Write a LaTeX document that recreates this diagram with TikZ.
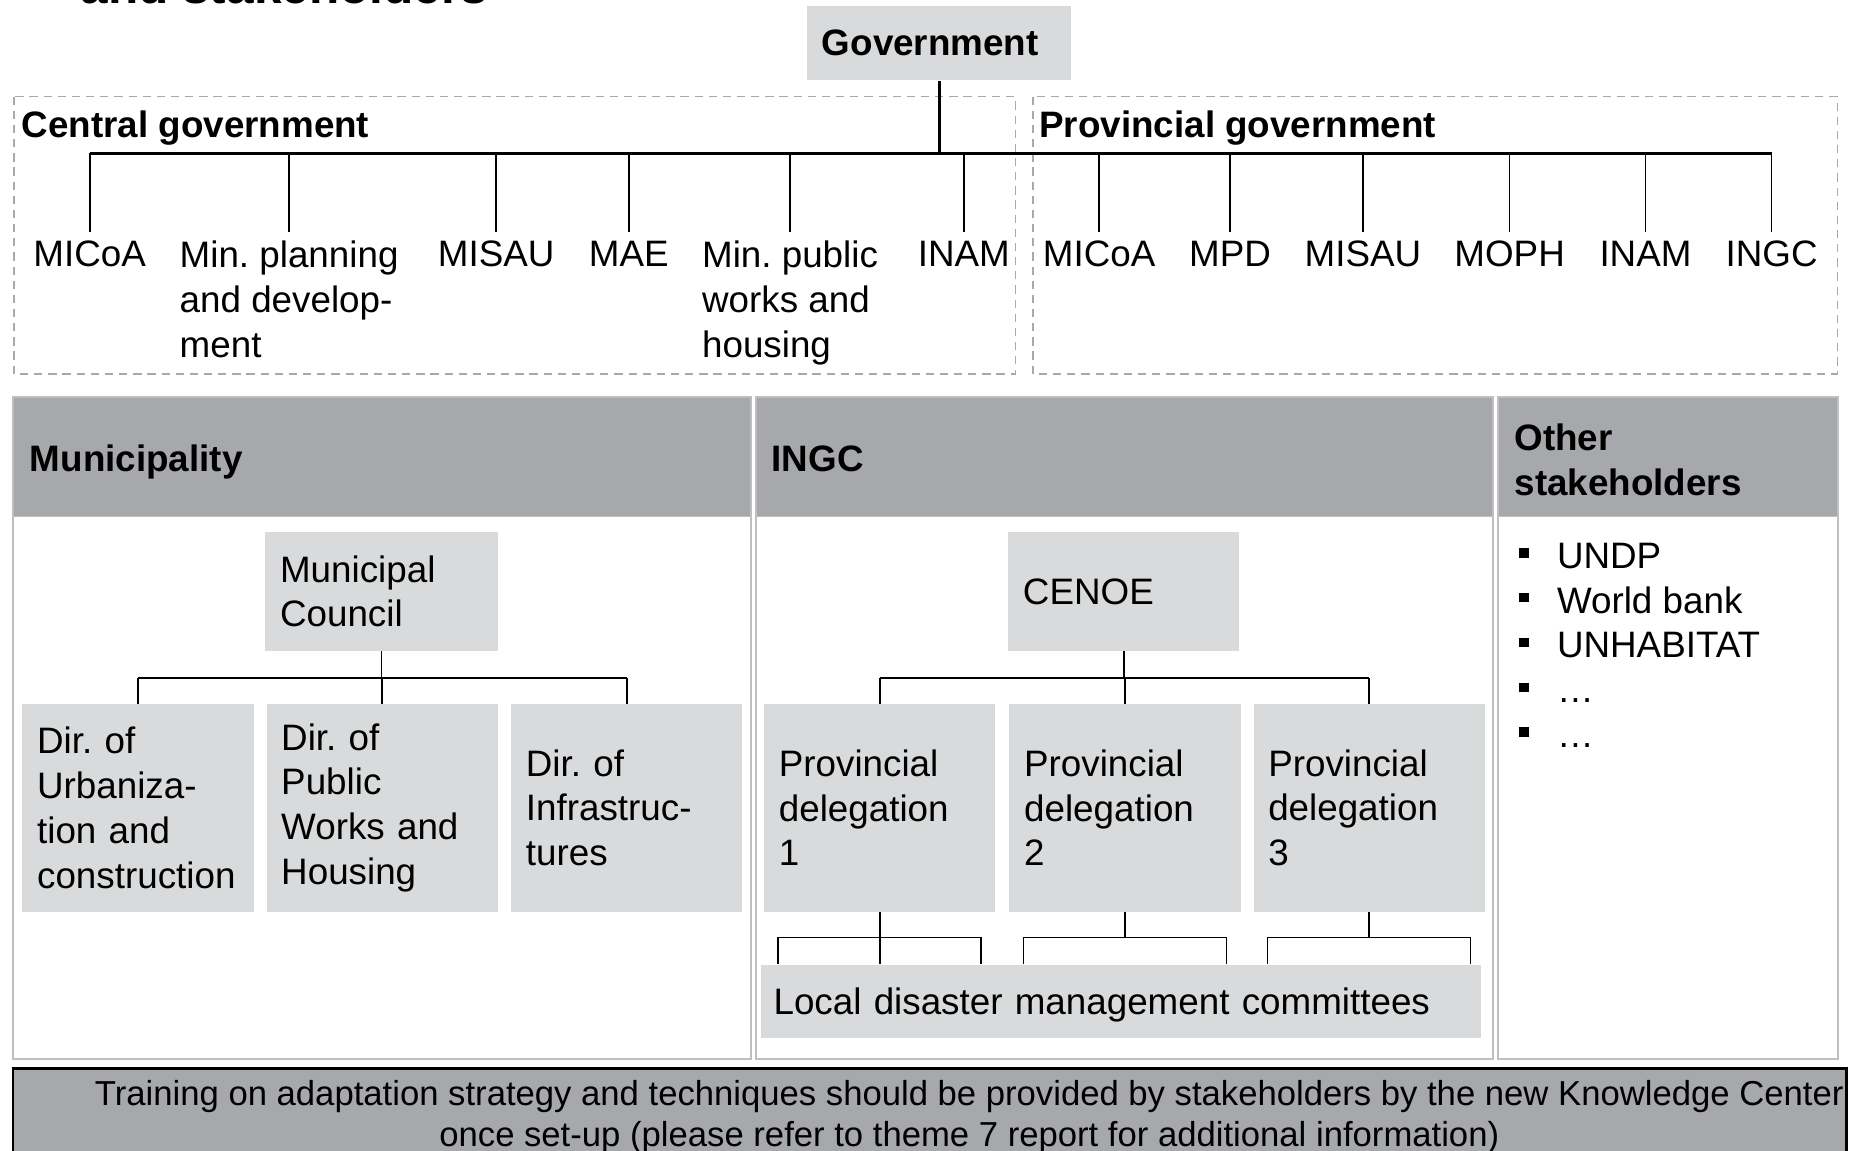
\documentclass[tikz,border=0pt]{standalone}
\usepackage{fontspec}
\setmainfont{Liberation Sans}
\usetikzlibrary{calc}
\definecolor{boxg}{HTML}{D9DADB}
\definecolor{headg}{HTML}{A7A8AB}
\definecolor{frameg}{HTML}{BFBFBF}
\definecolor{dashg}{HTML}{A9A9A9}
\newcommand\bodyfont{\fontsize{15.6pt}{19pt}\selectfont\frenchspacing}
\newcommand\barfont{\fontsize{14.7pt}{17.25pt}\selectfont\frenchspacing}
\newcommand\blt{\makebox[16pt][l]{\rule[4.5pt]{4pt}{4pt}}}
\begin{document}
\frenchspacing
\begin{tikzpicture}[x=0.5pt,y=-0.5pt,
  gbox/.style={fill=boxg, inner xsep=6.25pt, inner ysep=0pt, align=left, font=\bodyfont},
  lbl/.style={font=\bodyfont, align=left, inner xsep=0pt, inner ysep=3.5pt, anchor=north west},
  conn/.style={draw=black, line width=0.7pt},
  connb/.style={draw=black, line width=1.1pt},
  dashbox/.style={draw=dashg, line width=0.6pt, dash pattern=on 3.5pt off 2.5pt},
  panel/.style={draw=frameg, line width=0.8pt, fill=white},
  headbar/.style={draw=frameg, line width=0.8pt, fill=headg},
  hdr/.style={font=\bodyfont\bfseries, inner sep=0pt, anchor=base west}]

\useasboundingbox (0,0) rectangle (1568,976);
\clip (0,0) rectangle (1568,976);
\fill[white] (0,0) rectangle (1568,976);

\node[font=\fontsize{21pt}{25pt}\selectfont\bfseries, inner sep=0pt, anchor=base west] (title) at (68,3) {and stakeholders};

% Government
\node[gbox, text width=99.5pt, minimum height=31.5pt, font=\bodyfont\bfseries] (gov) at (796.5,36.5) {Government};

% dashed groups
\draw[dashbox] (12,82) rectangle (861,317);
\draw[dashbox] (876,82) rectangle (1558,317);
\node[hdr] (cgov) at (18,117) {Central government};
\node[hdr] (pgov) at (881,117) {Provincial government};

\node[lbl] (c1) at (28,197) {MICoA};
\node[lbl] (c2) at (152,197) {Min. planning\\and develop-\\ment};
\node[lbl] (c3) at (371,197) {MISAU};
\node[lbl] (c4) at (499,197) {MAE};
\node[lbl] (c5) at (595,197) {Min. public\\works and\\housing};
\node[lbl] (c6) at (778,197) {INAM};
\node[lbl] (p1) at (884,197) {MICoA};
\node[lbl] (p2) at (1008,197) {MPD};
\node[lbl] (p3) at (1106,197) {MISAU};
\node[lbl] (p4) at (1233,197) {MOPH};
\node[lbl] (p5) at (1356,197) {INAM};
\node[lbl] (p6) at (1463,197) {INGC};

\coordinate (bus) at (0,130);
\draw[connb] (gov.south) -- (gov.south |- bus);
\draw[connb] (c1.north |- bus) -- (p6.north |- bus);
\foreach \n in {c1,c2,c3,c4,c5,c6,p1,p2,p3,p4,p5,p6}
  \draw[conn] (\n.north |- bus) -- (\n.north);

% panels
\draw[panel] (11,337) rectangle (637,898);
\draw[headbar] (11,337) rectangle (637,438);
\draw[panel] (641,337) rectangle (1266,898);
\draw[headbar] (641,337) rectangle (1266,438);
\draw[panel] (1270,337) rectangle (1559,898);
\draw[headbar] (1270,337) rectangle (1559,438);
\node[hdr] (mun) at (25,400) {Municipality};
\node[hdr] (ingc) at (654,400) {INGC};
\node[font=\bodyfont\bfseries, inner sep=0pt, anchor=north west, align=left] (oth) at (1284,359) {Other\\stakeholders};

% municipality
\node[gbox, text width=86pt, minimum height=50.5pt] (council) at (323.5,501.5) {Municipal\\Council};
\node[gbox, text width=85.5pt, minimum height=88pt] (dir1) at (117,685) {Dir. of\\Urbaniza-\\tion and\\construction};
\node[gbox, text width=85.5pt, minimum height=88pt] (dir2) at (324,685) {Dir. of\\Public\\Works and\\Housing};
\node[gbox, text width=85.5pt, minimum height=88pt] (dir3) at (531.5,685) {Dir. of\\Infrastruc-\\tures};
\coordinate (mbus) at (0,575);
\draw[conn] (council.south) -- (council.south |- mbus);
\draw[conn] (dir1.north |- mbus) -- (dir3.north |- mbus);
\foreach \n in {dir1,dir2,dir3}
  \draw[conn] (\n.north |- mbus) -- (\n.north);

% INGC
\node[gbox, text width=85.5pt, minimum height=50.5pt] (cenoe) at (953,501.5) {CENOE};
\node[gbox, text width=85.5pt, minimum height=88pt] (pd1) at (746,685) {Provincial\\delegation\\1};
\node[gbox, text width=85.5pt, minimum height=88pt] (pd2) at (954,685) {Provincial\\delegation\\2};
\node[gbox, text width=85.5pt, minimum height=88pt] (pd3) at (1161,685) {Provincial\\delegation\\3};
\draw[conn] (cenoe.south) -- (cenoe.south |- mbus);
\draw[conn] (pd1.north |- mbus) -- (pd3.north |- mbus);
\foreach \n in {pd1,pd2,pd3}
  \draw[conn] (\n.north |- mbus) -- (\n.north);

\node[gbox, inner xsep=5.5pt, text width=294.5pt, text depth=0pt, minimum height=31pt] (ldmc) at (950.5,849) {Local disaster management committees};
\coordinate (lbus) at (0,795);
\foreach \n in {pd1,pd2,pd3} {
  \draw[conn] (\n.south) -- (\n.south |- lbus);
  \coordinate (\n-l) at ($(\n.south |- lbus)+(-86,0)$);
  \coordinate (\n-r) at ($(\n.south |- lbus)+(86,0)$);
  \draw[conn] (\n-l) -- (\n-r);
  \draw[conn] (\n-l) -- (\n-l |- ldmc.north);
  \draw[conn] (\n-r) -- (\n-r |- ldmc.north);
}
\draw[conn] (pd1.south |- lbus) -- (pd1.south |- ldmc.north);

% other stakeholders
\node[font=\bodyfont, inner sep=0pt, anchor=north west, align=left] (olist) at (1288,460) {\blt UNDP\\\blt World bank\\\blt UNHABITAT\\\blt …\\\blt …};

% bottom bar
\draw[fill=headg, draw=black, line width=1pt] (11,906) rectangle (1566,990);
\node[font=\barfont, align=center, inner sep=0pt, anchor=north] (train) at (822,916) {Training on adaptation strategy and techniques should be provided by stakeholders by the new Knowledge Center\\once set-up (please refer to theme 7 report for additional information)};
\end{tikzpicture}
\end{document}
